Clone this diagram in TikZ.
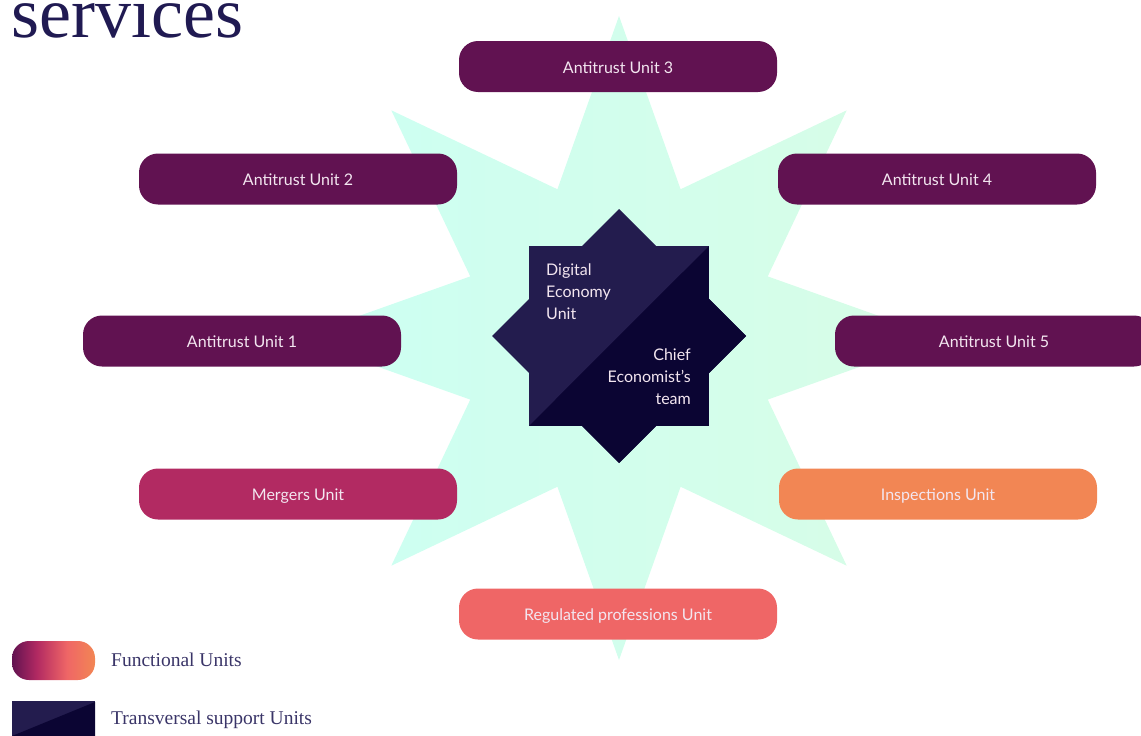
\documentclass[tikz,border=0pt]{standalone}
\usepackage{fontspec}
\setmainfont{Liberation Serif}
\setsansfont{Lato}
\usepackage{tikz}

\definecolor{antitrust}{HTML}{611251}
\definecolor{mergers}{HTML}{B22A62}
\definecolor{inspect}{HTML}{F28654}
\definecolor{regprof}{HTML}{EF6666}
\definecolor{navylight}{HTML}{231C4E}
\definecolor{navydark}{HTML}{0B0533}
\definecolor{titleblue}{HTML}{201A52}
\definecolor{legendtext}{HTML}{3A3568}
\definecolor{starleft}{HTML}{CCFFF3}
\definecolor{starright}{HTML}{D8FDE6}
\definecolor{pilltext}{HTML}{F3E6F0}

\pgfdeclarehorizontalshading{funcunits}{100bp}{color(0bp)=(antitrust); color(25bp)=(antitrust);
  color(40bp)=(mergers); color(58bp)=(regprof); color(75bp)=(inspect); color(100bp)=(inspect)}

\begin{document}
\begin{tikzpicture}[x=1pt,y=-1pt,
    unit/.style={fill=#1, rounded corners=19pt, minimum width=318pt, minimum height=51pt,
                 inner sep=0pt, text height=13pt, text depth=0pt, text=pilltext,
                 font=\sffamily\fontsize{16}{19}\selectfont},
    inner/.style={inner sep=0pt, text=pilltext, font=\sffamily\fontsize{16}{22}\selectfont},
    legend/.style={anchor=west, inner sep=0pt, text=legendtext, font=\rmfamily\fontsize{19.5}{22}\selectfont}]
\useasboundingbox (0,0) rectangle (1141,736);

% title
\node[anchor=base west, inner sep=0pt, text=titleblue, font=\rmfamily\fontsize{72}{80}\selectfont] (title) at (11,37) {services};

% big star
\shade[left color=starleft, right color=starright, shift={(619,338)}]
  (90:322) \foreach \a in {0,45,...,315} { -- ({90+\a}:322) -- ({112.5+\a}:161) } -- cycle;

% transversal units
\fill[navylight] (529,246) rectangle (709,426);
\fill[navylight] (619,209) -- (746,336) -- (619,463) -- (492,336) -- cycle;
\begin{scope}
  \clip (400,555) -- (840,115) -- (840,555) -- cycle;
  \fill[navydark] (529,246) rectangle (709,426);
  \fill[navydark] (619,209) -- (746,336) -- (619,463) -- (492,336) -- cycle;
\end{scope}
\node[inner, align=left, anchor=north west] (digital) at (546,264) {Digital\\Economy\\Unit};
\node[inner, align=right, anchor=north east] (chief) at (691,349) {Chief\\Economist's\\team};

% functional units
\node[unit=antitrust] (at3) at (618,66.5) {Antitrust Unit 3};
\node[unit=antitrust] (at2) at (298,179) {Antitrust Unit 2};
\node[unit=antitrust] (at4) at (937,179) {Antitrust Unit 4};
\node[unit=antitrust] (at1) at (242,341) {Antitrust Unit 1};
\node[unit=antitrust] (at5) at (994,341) {Antitrust Unit 5};
\node[unit=mergers] (merg) at (298,494) {Mergers Unit};
\node[unit=inspect] (insp) at (938,494) {Inspections Unit};
\node[unit=regprof] (regp) at (618,614) {Regulated professions Unit};

% legend
\shade[shading=funcunits, rounded corners=17pt] (12,641) rectangle (95,680);
\node[legend] (funcleg) at (111,660) {Functional Units};
\fill[navylight] (12,701) rectangle (95,736);
\fill[navydark] (12,736) -- (95,702) -- (95,736) -- cycle;
\node[legend] (transleg) at (111,720) {Transversal support Units};
\end{tikzpicture}
\end{document}
